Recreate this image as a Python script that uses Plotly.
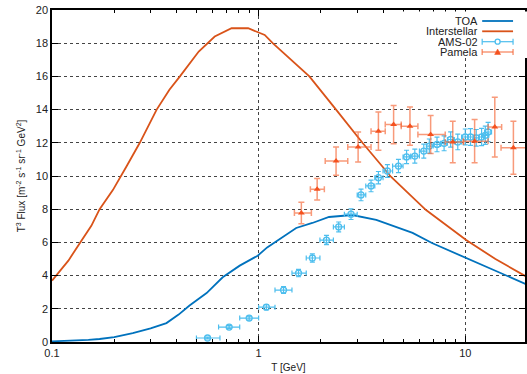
import plotly.graph_objects as go

# ---------------- data ----------------
toa_T = [0.1, 0.12, 0.15, 0.17, 0.2, 0.246, 0.3, 0.358, 0.41, 0.463, 0.56, 0.67, 0.81,
         0.99, 1.1, 1.52, 1.82, 2.19, 2.84, 3.71, 4.65, 5.56, 6.9, 10.1, 20]
toa_F = [0.04, 0.07, 0.13, 0.18, 0.3, 0.54, 0.82, 1.14, 1.65, 2.2, 2.95, 3.9, 4.6,
         5.2, 5.7, 6.87, 7.17, 7.53, 7.65, 7.35, 6.93, 6.57, 5.96, 5.06, 3.45]

is_T = [0.1, 0.12, 0.137, 0.155, 0.17, 0.197, 0.23, 0.266, 0.321, 0.37, 0.416, 0.513, 0.613,
        0.74, 0.89, 0.978, 1.07, 1.17, 1.4, 1.76, 2.37, 3.18, 4.38, 6.46, 10.1, 14.0, 20]
is_F = [3.7, 4.9, 6.0, 7.0, 8.0, 9.15, 10.6, 12.0, 14.0, 15.2, 16.0, 17.5, 18.4,
        18.9, 18.9, 18.7, 18.5, 18.0, 17.1, 16.0, 14.0, 12.0, 9.94, 7.95, 6.14, 5.0, 3.9]

ams_T = [0.566, 0.72, 0.9, 1.09, 1.32, 1.56, 1.82, 2.13, 2.44, 2.8, 3.13, 3.5, 3.8, 4.2,
         4.75, 5.2, 5.7, 6.3, 6.7, 7.3, 7.9, 8.5, 9.2, 10.0, 10.6, 11.3, 12.0, 12.5, 12.9]
ams_F = [0.24, 0.9, 1.44, 2.1, 3.13, 4.15, 5.06, 6.14, 6.93, 7.7, 8.86, 9.4, 9.9, 10.3,
         10.6, 11.15, 11.2, 11.5, 11.8, 11.9, 11.97, 12.2, 12.05, 12.35, 12.35, 12.3, 12.35, 12.45, 12.65]
ams_T_lo = [0.50, 0.64, 0.81, 1.0, 1.2, 1.45, 1.7, 1.98, 2.3, 2.6, 3.0, 3.3, 3.65, 4.0,
            4.45, 5.0, 5.45, 6.0, 6.5, 7.0, 7.6, 8.2, 8.85, 9.6, 10.3, 11.0, 11.65, 12.0, 12.4]
ams_T_hi = [0.65, 0.81, 1.0, 1.2, 1.45, 1.7, 1.98, 2.3, 2.6, 3.0, 3.3, 3.65, 4.0, 4.45,
            5.0, 5.45, 6.0, 6.5, 7.0, 7.6, 8.2, 8.85, 9.6, 10.3, 11.0, 11.65, 12.3, 13.0, 13.4]
ams_err = [0.05, 0.1, 0.12, 0.15, 0.2, 0.22, 0.25, 0.28, 0.3, 0.32, 0.35, 0.35, 0.37, 0.38,
           0.4, 0.4, 0.42, 0.42, 0.43, 0.44, 0.45, 0.46, 0.47, 0.48, 0.5, 0.5, 0.52, 0.55, 0.58]

pam_T = [1.61, 1.92, 2.37, 3.03, 3.8, 4.5, 5.4, 6.8, 8.7, 11.1, 13.9, 17.1]
pam_F = [7.77, 9.2, 10.9, 11.75, 12.7, 13.1, 13.0, 12.5, 12.05, 12.1, 12.95, 11.7]
pam_T_lo = [1.49, 1.78, 2.1, 2.7, 3.5, 4.1, 4.9, 5.9, 8.0, 9.8, 12.9, 14.9]
pam_T_hi = [1.8, 2.08, 2.7, 3.5, 4.1, 4.9, 5.9, 8.0, 9.8, 12.9, 15.0, 21.0]
pam_err = [0.65, 0.65, 0.85, 0.9, 1.15, 1.15, 1.15, 1.15, 1.25, 1.3, 1.8, 1.6]

x_ticks = [0.1, 1, 10]
x_ticklabels = ["0.1", "1", "10"]

# ---------------- style ----------------
C_TOA = "#0072bd"
C_IS = "#d95319"
C_AMS = "#4dbeee"
C_PAM = "#f4511e"
C_PAM_ERR = "rgba(244,100,50,0.65)"
FONT = "Liberation Sans, Arial, Helvetica, sans-serif"

fig = go.Figure()
fig.add_trace(go.Scatter(x=toa_T, y=toa_F, mode="lines", name="TOA",
                         line=dict(color=C_TOA, width=1.8)))
fig.add_trace(go.Scatter(x=is_T, y=is_F, mode="lines", name="Interstellar",
                         line=dict(color=C_IS, width=1.8)))
fig.add_trace(go.Scatter(
    x=ams_T, y=ams_F, mode="markers", name="AMS-02",
    marker=dict(symbol="circle-open", size=6, color=C_AMS, line=dict(width=1.3, color=C_AMS)),
    error_x=dict(type="data", symmetric=False,
                 array=[h - t for h, t in zip(ams_T_hi, ams_T)],
                 arrayminus=[t - l for t, l in zip(ams_T, ams_T_lo)],
                 color=C_AMS, thickness=1.2, width=2.5),
    error_y=dict(type="data", array=ams_err, color=C_AMS, thickness=1.2, width=2.5)))
fig.add_trace(go.Scatter(
    x=pam_T, y=pam_F, mode="markers", name="Pamela",
    marker=dict(symbol="triangle-up", size=6, color=C_PAM),
    error_x=dict(type="data", symmetric=False,
                 array=[h - t for h, t in zip(pam_T_hi, pam_T)],
                 arrayminus=[t - l for t, l in zip(pam_T, pam_T_lo)],
                 color=C_PAM_ERR, thickness=1.5, width=3),
    error_y=dict(type="data", array=pam_err, color=C_PAM_ERR, thickness=1.5, width=3)))

W, H = 527, 374
ML, MR, MT, MB = 52, 0, 10, 32
PW, PH = W - ML - MR, H - MT - MB


def px(x):
    return (x - ML) / PW


def py(y):
    return (H - MB - y) / PH


# ---------------- legend (drawn manually, gnuplot style) ----------------
shapes = [dict(type="rect", xref="paper", yref="paper", layer="above",
               x0=px(400), x1=px(530), y0=py(58), y1=py(11.5),
               fillcolor="white", line=dict(width=0))]
annotations = []
rows = [("TOA", 21), ("Interstellar", 31.3), ("AMS-02", 41.7), ("Pamela", 52)]
for name, ry in rows:
    annotations.append(dict(text=name, xref="paper", yref="paper", x=px(481), y=py(ry),
                            xanchor="right", yanchor="middle", showarrow=False,
                            height=10, borderpad=0,
                            font=dict(size=11, color="#222", family=FONT)))
L0, L1 = 484, 515
LC = (L0 + L1) / 2
shapes.append(dict(type="line", xref="paper", yref="paper", layer="above",
                   x0=px(L0), x1=px(L1), y0=py(21), y1=py(21), line=dict(color=C_TOA, width=1.8)))
shapes.append(dict(type="line", xref="paper", yref="paper", layer="above",
                   x0=px(L0), x1=px(L1), y0=py(31.3), y1=py(31.3), line=dict(color=C_IS, width=1.8)))
for ry, col, lw in [(41.7, C_AMS, 1.2), (52, C_PAM_ERR, 1.5)]:
    shapes.append(dict(type="line", xref="paper", yref="paper", layer="above",
                       x0=px(L0), x1=px(L1), y0=py(ry), y1=py(ry), line=dict(color=col, width=lw)))
    for cx in (L0, L1):
        shapes.append(dict(type="line", xref="paper", yref="paper", layer="above",
                           x0=px(cx), x1=px(cx), y0=py(ry - 3), y1=py(ry + 3),
                           line=dict(color=col, width=lw)))
shapes.append(dict(type="circle", xref="paper", yref="paper", layer="above",
                   x0=px(LC - 2.5), x1=px(LC + 2.5), y0=py(41.7 + 2.5), y1=py(41.7 - 2.5),
                   line=dict(color=C_AMS, width=1.3), fillcolor="white"))
shapes.append(dict(type="path", xref="paper", yref="paper", layer="above",
                   path="M {} {} L {} {} L {} {} Z".format(px(LC - 3), py(54.5), px(LC + 3), py(54.5),
                                                          px(LC), py(49)),
                   line=dict(color=C_PAM, width=0.5), fillcolor=C_PAM))

axis_common = dict(
    showline=True, linecolor="black", linewidth=1.5, mirror="allticks",
    ticks="inside", ticklen=6, tickwidth=1, tickcolor="black",
    showgrid=True, gridcolor="#444", gridwidth=1, griddash="dot",
    zeroline=False,
    tickfont=dict(size=11, color="#222", family=FONT),
)

fig.update_layout(
    width=W, height=H,
    margin=dict(l=ML, r=MR, t=MT, b=MB),
    paper_bgcolor="white", plot_bgcolor="white",
    showlegend=False,
    font=dict(family=FONT, size=11, color="#222"),
    shapes=shapes, annotations=annotations,
    xaxis=dict(type="log", range=[-1, -1 + PW / 207.5],
               tickvals=x_ticks, ticktext=x_ticklabels,
               minor=dict(ticks="inside", ticklen=3, tickcolor="black",
                          tickvals=[v * m for v in (0.1, 1, 10) for m in range(2, 10)],
                          showgrid=False),
               title=dict(text="T [GeV]", standoff=6, font=dict(size=10, family=FONT)),
               **axis_common),
    yaxis=dict(range=[0, 20], dtick=2,
               title=dict(text="T<sup>3</sup> Flux [m<sup>-2</sup> s<sup>-1</sup> sr<sup>-1</sup> GeV<sup>2</sup>]",
                          standoff=8, font=dict(size=10, family=FONT)),
               **axis_common),
)

fig.write_html("out.html", config={"displayModeBar": False},
               post_script="document.body.style.margin='0';document.body.style.overflow='hidden';")
